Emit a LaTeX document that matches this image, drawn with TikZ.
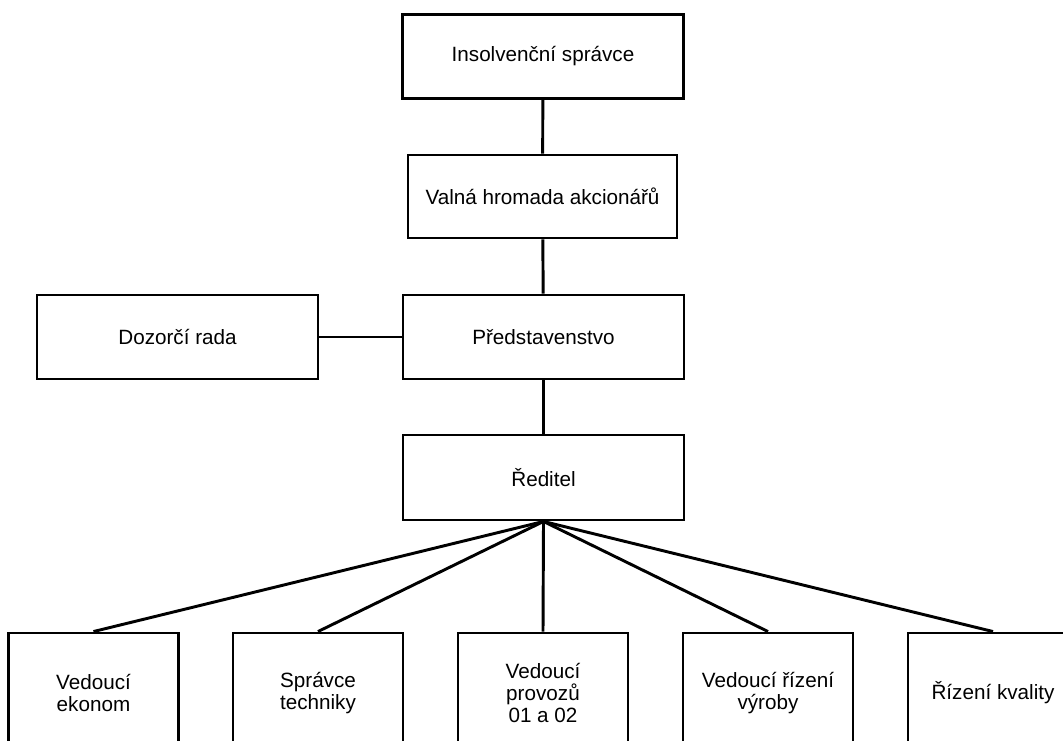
\documentclass[tikz,border=0pt]{standalone}
\usepackage{fontspec}
\setmainfont{Liberation Sans}
\usepackage{tikz}

\begin{document}
\begin{tikzpicture}[x=0.75pt, y=-0.75pt, line width=2.2pt,
  unit/.style={draw, fill=white, align=center, inner sep=0pt,
    font=\fontsize{15.5}{16.5}\selectfont},
  wide/.style={unit, minimum width=281pt*0.75, minimum height=84pt*0.75},
  low/.style={unit, minimum width=170pt*0.75, minimum height=120pt*0.75}]
\clip (0,0) rectangle (1063,740);
\fill[white] (0,0) rectangle (1063,740);
\node[wide] (ins) at (543,56.5) {Insolvenční správce};
\node[wide, minimum width=269pt*0.75, minimum height=83pt*0.75] (valna) at (542.5,196.5) {Valná hromada akcionářů};
\node[wide] (pred) at (543.5,337) {Představenstvo};
\node[wide] (dozor) at (177.5,337) {Dozorčí rada};
\node[wide, minimum height=85pt*0.75] (red) at (543.5,477.5) {Ředitel};
\node[low] (ekon) at (93.5,693) {Vedoucí\\ekonom};
\node[low] (tech) at (318,693) {Správce\\techniky};
\node[low] (prov) at (543,693) {Vedoucí\\provozů\\01 a 02};
\node[low] (vyr) at (768,693) {Vedoucí řízení\\výroby};
\node[low] (kval) at (993,693) {Řízení kvality};
\draw (ins) -- (valna);
\draw (valna) -- (pred);
\draw (dozor) -- (pred);
\draw (pred) -- (red);
\foreach \b in {ekon,tech,prov,vyr,kval} \draw (red.south) -- (\b.north);
\end{tikzpicture}
\end{document}
